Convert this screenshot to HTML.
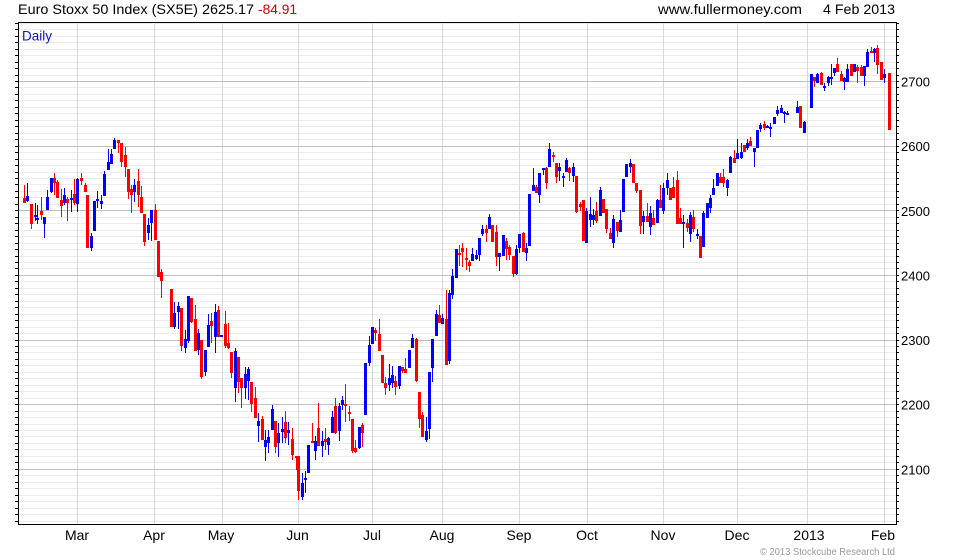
<!DOCTYPE html>
<html>
<head>
<meta charset="utf-8">
<style>
html,body{margin:0;padding:0;background:#fff;}
svg{display:block;}
text{font-family:"Liberation Sans",Arial,sans-serif;}
</style>
</head>
<body>
<svg id="chart" width="980" height="560" viewBox="0 0 980 560" xmlns="http://www.w3.org/2000/svg">
<rect x="0" y="0" width="980" height="560" fill="#fff"/>
<g id="grid"></g>
<g id="candles"></g>
<g id="axes"></g>
<text x="18" y="14" font-size="14" fill="#000" textLength="236" lengthAdjust="spacingAndGlyphs">Euro Stoxx 50 Index (SX5E) 2625.17</text>
<text x="258" y="14" font-size="14" fill="#cc0000" textLength="39" lengthAdjust="spacingAndGlyphs">-84.91</text>
<text x="658" y="14" font-size="14" fill="#000" textLength="144" lengthAdjust="spacingAndGlyphs">www.fullermoney.com</text>
<text x="823" y="14" font-size="14" fill="#000" textLength="72" lengthAdjust="spacingAndGlyphs">4 Feb 2013</text>
<text x="22" y="40.5" font-size="13.5" fill="#1010d0">Daily</text>
<g font-size="13" fill="#000">
<text x="901" y="86.5">2700</text>
<text x="901" y="151.1">2600</text>
<text x="901" y="215.8">2500</text>
<text x="901" y="280.4">2400</text>
<text x="901" y="345">2300</text>
<text x="901" y="409.7">2200</text>
<text x="901" y="474.3">2100</text>
</g>
<g font-size="14" fill="#000" text-anchor="middle">
<text x="77" y="540">Mar</text>
<text x="154" y="540">Apr</text>
<text x="221" y="540">May</text>
<text x="297.5" y="540">Jun</text>
<text x="372" y="540">Jul</text>
<text x="442" y="540">Aug</text>
<text x="519" y="540">Sep</text>
<text x="587" y="540">Oct</text>
<text x="663" y="540">Nov</text>
<text x="737" y="540">Dec</text>
<text x="809" y="540">2013</text>
</g>
<text x="895" y="540" font-size="14" fill="#000" text-anchor="end">Feb</text>
<text x="895" y="555" font-size="10.5" fill="#999" text-anchor="end" textLength="135" lengthAdjust="spacingAndGlyphs">© 2013 Stockcube Research Ltd</text>
</svg>
<script>
(function(){
var NS="http://www.w3.org/2000/svg";
function add(parent,tag,a){var e=document.createElementNS(NS,tag);for(var k in a)e.setAttribute(k,a[k]);parent.appendChild(e);return e;}
var grid=document.getElementById('grid'),cg=document.getElementById('candles'),ax=document.getElementById('axes');
function py(p){return 469.3-(p-2100)*0.6463;}
var majors=[];
for(var p=2020;p<=2790;p+=10){
  var y=Math.floor(py(p))+0.5;
  if(y<23||y>524)continue;
  if(p%100===0){majors.push(y);}
  else add(grid,'line',{x1:19,x2:896,y1:y,y2:y,stroke:'#ebebeb','stroke-width':1});
  add(ax,'line',{x1:15,x2:18,y1:y,y2:y,stroke:'#000','stroke-width':1});
  add(ax,'line',{x1:896,x2:899,y1:y,y2:y,stroke:'#000','stroke-width':1});
}
var months=[77,154,222,298,372,442,519,587,663,737,807,884];
months.forEach(function(x){add(grid,'line',{x1:x+0.5,x2:x+0.5,y1:23,y2:524,stroke:'#d8d8d8','stroke-width':1});});
majors.forEach(function(y){add(grid,'line',{x1:19,x2:896,y1:y,y2:y,stroke:'#c0c0c0','stroke-width':1});});
var C=[
[24.0,198,203,185,203,'r'],[27.3,196,201,183,202,'b'],[31.3,204,224,204,229,'r'],[34.7,215,217,203,221,'b'],
[37.3,218,220,205,224,'b'],[41.3,211,215,197,220,'r'],[44.3,217,224,217,238,'b'],[47.3,197,210,190,210,'b'],
[51.3,178,192,178,193,'b'],[54.0,178,183,173,195,'r'],[57.3,182,198,180,198,'r'],[61.3,200,206,189,217,'r'],
[64.3,195,203,188,205,'b'],[67.3,199,203,197,221,'r'],[71.3,198,200,190,212,'b'],[74.0,194,203,179,205,'r'],
[77.3,179,204,178,212,'b'],[81.3,178,181,173,185,'r'],[84.7,185,192,183,192,'r'],[87.3,195,248,195,248,'r'],
[91.3,236,248,233,251,'b'],[94.3,201,231,201,231,'b'],[97.3,199,201,191,208,'b'],[101.3,201,204,195,209,'b'],
[104.3,174,196,171,196,'b'],[108.0,162,170,149,170,'b'],[111.3,154,164,149,164,'b'],[114.3,140,149,138,149,'b'],
[118.0,140,143,140,153,'r'],[121.3,143,162,143,167,'r'],[124.7,155,167,147,177,'r'],[128.0,169,192,169,199,'r'],
[131.3,189,195,185,213,'r'],[134.3,185,192,179,202,'b'],[138.0,181,195,169,207,'r'],[141.3,197,213,186,213,'r'],
[144.0,214,242,214,246,'r'],[148.0,225,233,218,240,'b'],[151.3,210,223,210,241,'b'],[154.7,210,240,204,240,'r'],
[158.0,241,277,241,277,'r'],[161.3,272,281,269,298,'r'],
[171.0,289,327,289,327,'r'],[174.3,313,327,302,329,'b'],[178.3,306,312,302,329,'b'],[181.3,308,346,308,351,'r'],
[185.0,339,348,330,353,'b'],[188.3,296,341,296,343,'b'],[191.3,298,322,298,323,'r'],[195.3,319,351,305,351,'r'],
[198.3,333,350,329,355,'b'],[201.3,340,377,340,379,'r'],[205.3,350,372,350,376,'b'],[208.3,325,347,314,347,'b'],
[211.3,321,326,313,343,'r'],[215.3,312,337,304,353,'b'],[218.3,310,337,306,337,'r'],[221.3,335,337,335,337,'b'],
[225.3,324,346,311,348,'r'],[228.3,343,348,323,349,'r'],[231.3,352,373,352,378,'r'],[235.3,351,388,348,402,'b'],
[238.3,357,382,357,393,'r'],[241.3,378,388,378,408,'r'],[245.3,374,388,367,399,'b'],[248.3,369,381,367,400,'b'],
[251.3,382,404,382,412,'r'],[255.3,398,418,387,418,'r'],[258.3,421,426,413,442,'b'],[262.3,419,440,416,440,'r'],
[265.3,440,447,430,461,'b'],[268.3,437,443,430,453,'b'],[272.3,409,430,405,430,'b'],[275.3,421,447,421,453,'r'],
[278.3,433,443,423,457,'b'],[282.3,429,432,417,443,'b'],[285.3,422,438,411,443,'r'],[288.3,430,433,422,445,'b'],
[292.3,439,455,428,460,'r'],[295.7,456,457,456,470,'r'],[298.3,456,491,456,500,'r'],[302.3,483,497,473,500,'b'],
[305.3,478,480,471,493,'b'],[308.3,445,473,445,473,'b'],
[311.7,441,443,423,443,'r'],[315.0,441,451,436,460,'b'],[318.3,428,446,403,446,'r'],[322.3,441,446,431,457,'b'],
[325.3,439,442,428,450,'r'],[328.3,438,445,437,455,'b'],[332.3,417,433,411,433,'b'],[335.3,406,433,398,434,'r'],
[339.3,406,431,403,441,'b'],[342.3,400,405,396,410,'b'],[345.3,404,406,384,422,'r'],[349.3,412,414,406,421,'r'],
[352.3,419,451,419,453,'r'],[355.3,448,452,440,453,'r'],[359.3,427,448,427,449,'b'],[362.3,425,433,423,447,'r'],
[365.3,363,415,363,415,'b'],[369.3,345,363,336,366,'b'],[372.3,327,344,327,344,'b'],[375.3,330,333,328,341,'r'],
[379.3,334,351,319,351,'r'],[382.3,355,383,355,383,'r'],[385.3,383,388,377,395,'r'],[389.3,378,385,364,391,'b'],
[392.0,375,383,366,388,'b'],[395.3,381,387,376,395,'r'],[399.3,366,386,366,389,'b'],[402.3,367,371,367,373,'r'],
[405.3,369,373,358,373,'r'],[409.3,350,368,350,368,'b'],[412.3,338,348,334,348,'b'],[416.0,339,381,338,382,'r'],
[419.3,392,419,392,428,'r'],[422.3,415,437,412,437,'r'],[426.0,431,440,417,442,'b'],[429.3,372,429,372,439,'b'],
[432.3,339,368,339,382,'b'],[436.0,314,336,310,336,'b'],[439.0,315,323,305,323,'r'],[442.3,318,324,314,324,'b'],
[446.0,319,365,290,365,'r'],[449.3,293,361,290,364,'b'],[452.3,276,295,269,299,'b'],[456.0,249,278,249,278,'b'],
[459.3,253,255,245,266,'r'],
[462.3,248,252,243,267,'r'],[466.0,258,260,248,270,'r'],[469.3,262,266,260,272,'r'],[472.3,254,261,248,261,'b'],
[476.0,255,259,250,260,'b'],[479.3,238,255,238,261,'b'],[482.3,229,234,225,236,'b'],[486.0,229,233,225,242,'r'],
[489.3,217,229,214,229,'b'],[492.3,225,242,225,242,'r'],[496.0,232,257,225,266,'r'],[499.3,253,257,253,271,'b'],
[503.0,235,256,235,256,'b'],[506.3,241,249,238,260,'r'],[509.3,247,255,245,260,'r'],[513.0,256,274,256,277,'r'],
[516.3,249,274,245,275,'b'],[519.3,234,248,234,253,'b'],[523.3,233,252,232,252,'r'],[526.3,248,253,243,261,'b'],
[529.3,194,246,194,246,'b'],[533.3,185,191,168,191,'b'],[536.3,187,193,185,193,'r'],[539.3,173,195,173,203,'b'],
[543.3,168,169,168,175,'b'],[546.3,168,183,167,189,'r'],[549.3,149,167,143,167,'b'],[553.3,155,157,152,162,'r'],
[556.3,163,177,163,183,'r'],[559.3,167,171,163,181,'b'],[563.3,176,177,173,187,'b'],[566.0,160,172,158,172,'b'],
[569.3,168,173,167,181,'r'],[573.3,167,176,163,182,'b'],[576.3,176,212,176,213,'r'],[580.0,204,207,202,211,'r'],
[583.3,200,241,200,241,'r'],[586.3,211,243,208,243,'b'],
[590.0,214,220,197,227,'b'],[593.3,215,220,209,225,'b'],[596.0,211,221,202,223,'r'],[600.0,190,216,187,216,'b'],
[603.3,199,213,199,213,'r'],[606.0,209,229,209,233,'r'],[610.0,233,239,228,239,'r'],[613.0,219,243,215,248,'b'],
[616.7,222,231,222,237,'r'],[620.0,220,232,210,232,'b'],[623.3,179,212,179,212,'b'],[626.0,164,177,164,177,'b'],
[630.0,163,167,159,173,'b'],[633.3,164,183,164,183,'r'],[636.0,183,191,183,193,'r'],[640.0,190,226,190,234,'r'],
[643.3,216,222,211,234,'b'],[646.7,216,222,203,222,'r'],[650.0,213,227,206,235,'b'],[653.3,218,225,210,225,'r'],
[657.3,200,223,199,223,'b'],[660.3,200,208,185,208,'r'],[663.3,188,211,183,214,'b'],[667.3,180,188,173,195,'b'],
[670.3,188,200,188,200,'r'],[673.3,187,198,177,198,'r'],[677.3,180,224,171,224,'r'],[680.3,218,224,208,224,'r'],
[683.3,222,223,215,248,'b'],[687.3,223,228,219,232,'r'],[690.3,215,234,212,242,'b'],[693.3,217,229,210,232,'r'],
[697.3,234,236,229,239,'b'],[700.3,236,258,236,258,'r'],[703.3,213,247,211,247,'b'],[707.3,203,218,203,218,'b'],
[710.0,198,208,195,213,'b'],[713.3,188,195,179,195,'b'],[717.3,173,186,173,186,'b'],
[720.0,177,183,173,183,'r'],[723.3,177,183,169,187,'r'],[727.3,180,188,179,196,'b'],[730.3,157,173,156,173,'b'],
[734.0,158,163,150,163,'r'],[737.3,153,159,139,159,'b'],[740.7,152,158,143,159,'b'],[744.3,145,152,145,152,'r'],
[747.3,143,148,139,150,'b'],[750.3,141,146,137,146,'r'],[754.0,148,152,148,167,'b'],[757.3,130,148,130,148,'b'],
[760.3,125,129,123,132,'b'],[764.0,124,128,121,130,'r'],[767.3,126,127,125,128,'b'],[770.3,127,128,123,137,'b'],
[774.3,117,124,117,124,'b'],[777.3,110,114,106,116,'b'],[780.7,108,113,105,113,'b'],[784.0,112,113,111,123,'b'],
[787.3,113,114,111,115,'b'],
[797.3,107,113,101,113,'b'],[800.3,106,128,106,128,'r'],[804.3,122,133,121,133,'b'],
[811.0,74,108,74,108,'b'],[814.3,77,81,77,87,'r'],[817.3,74,83,73,83,'b'],[821.0,73,85,72,85,'r'],
[824.3,86,87,83,91,'b'],[827.7,77,83,76,86,'b'],[831.0,77,78,64,85,'b'],[834.0,68,73,68,76,'b'],
[837.3,64,72,58,72,'r'],[841.0,74,81,71,81,'r'],[844.0,78,82,77,90,'b'],[847.3,69,82,64,82,'b'],
[851.0,64,76,64,76,'r'],[854.3,64,72,64,72,'b'],[857.3,67,71,65,83,'r'],[861.0,67,76,65,76,'r'],
[864.3,66,76,66,86,'b'],[867.3,52,67,49,67,'b'],[871.0,51,53,47,53,'r'],[874.3,49,53,48,62,'b'],
[877.3,48,65,45,74,'r'],[881.0,62,80,62,80,'r'],[884.3,74,78,69,83,'b'],[888.7,73,130,73,130,'r']
];
C.forEach(function(c){
  var x=Math.round(c[0]);
  var col=c[5]==='r'?'#ff0000':'#0000ff';
  var bt=Math.min(c[1],c[2]),bb=Math.max(c[1],c[2]);
  var wt=Math.min(c[3],bt),wb=Math.max(c[4],bb);
  add(cg,'rect',{x:x,y:wt,width:1,height:Math.max(1,wb-wt),fill:col});
  add(cg,'rect',{x:x-1,y:bt,width:3,height:Math.max(2,bb-bt),fill:col});
});
add(ax,'line',{x1:18,x2:897,y1:22.5,y2:22.5,stroke:'#000','stroke-width':1});
add(ax,'line',{x1:18,x2:897,y1:524.5,y2:524.5,stroke:'#000','stroke-width':1});
add(ax,'line',{x1:18.5,x2:18.5,y1:22,y2:525,stroke:'#000','stroke-width':1});
add(ax,'line',{x1:896.5,x2:896.5,y1:22,y2:525,stroke:'#000','stroke-width':1});
})();
</script>
</body>
</html>
